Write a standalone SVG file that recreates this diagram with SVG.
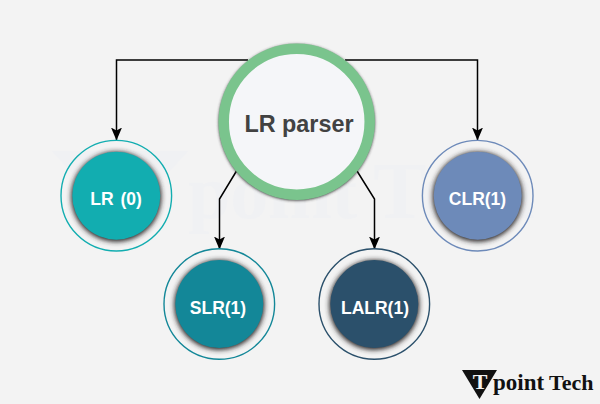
<svg xmlns="http://www.w3.org/2000/svg" width="600" height="404" viewBox="0 0 600 404">
<style>
.lbl{font-family:"Liberation Sans",Arial,sans-serif;font-weight:700;font-size:17.5px;fill:#fff;text-anchor:middle}
.conn{fill:none;stroke:#000;stroke-width:1.5}
.halo{fill:#2a2628;filter:url(#blur)}
.ring{fill:none;stroke-width:1.4}
.wm{font-family:"Liberation Serif",serif;font-weight:700;fill:#f0f1f3}
.logo{font-family:"Liberation Serif",serif;font-weight:700;fill:#111}
</style>
<defs>
<filter id="blur" x="-30%" y="-30%" width="160%" height="160%"><feGaussianBlur stdDeviation="2.600"/></filter>
<filter id="blur2" x="-30%" y="-30%" width="160%" height="160%"><feGaussianBlur stdDeviation="1.800"/></filter>
<marker id="arrow" markerUnits="userSpaceOnUse" markerWidth="14" markerHeight="12" refX="12.500" refY="5.500" orient="auto"><path d="M0 0L13 5.500L0 11L3 5.500Z" fill="#000"/></marker>
</defs>
<rect width="600" height="404" fill="#f3f3f3"/>
<g id="watermark">
<polygon points="52,151 188,151 120,226" fill="#f0f1f3"/>
<text x="119" y="212" text-anchor="middle" font-size="76" class="wm" style="fill:#f3f3f3">T</text>
<text class="wm" x="188" y="218" font-size="76">point</text>
<text class="wm" x="373" y="218" font-size="80">Tech</text>
</g>
<g id="connectors">
<path class="conn" d="M248 60H116.500V140" marker-end="url(#arrow)"/>
<path class="conn" d="M345 60H477.500V140" marker-end="url(#arrow)"/>
<path class="conn" d="M236.500 171L219.500 199V249" marker-end="url(#arrow)"/>
<path class="conn" d="M357 171L374.500 199V249" marker-end="url(#arrow)"/>
</g>
<g id="lr-parser">
<circle cx="296.700" cy="122.500" r="78" fill="#333" filter="url(#blur2)"/>
<circle cx="296.700" cy="121.700" r="73" fill="#f5f6f9" stroke="#7ac48d" stroke-width="10.500"/>
<text x="299" y="131.500" text-anchor="middle" font-family="Liberation Sans,Arial,sans-serif" font-weight="700" font-size="23.400" fill="#424242">LR parser</text>
</g>
<g id="lr0">
<circle class="ring" cx="116.300" cy="195.700" r="55.300" stroke="#12adb0"/>
<circle class="halo" cx="116.300" cy="196.700" r="45"/>
<circle cx="116.300" cy="195.700" r="44" fill="#12adb0"/>
<text class="lbl" x="116" y="205" word-spacing="2">LR (0)</text>
</g>
<g id="slr1">
<circle class="ring" cx="219.300" cy="304" r="55.300" stroke="#138798"/>
<circle class="halo" cx="219.300" cy="305" r="45"/>
<circle cx="219.300" cy="304" r="44" fill="#138798"/>
<text class="lbl" x="218" y="313.500">SLR(1)</text>
</g>
<g id="lalr1">
<circle class="ring" cx="374.300" cy="304" r="55.300" stroke="#2b506b"/>
<circle class="halo" cx="374.300" cy="305" r="45"/>
<circle cx="374.300" cy="304" r="44" fill="#2b506b"/>
<text class="lbl" x="375" y="313.500">LALR(1)</text>
</g>
<g id="clr1">
<circle class="ring" cx="477.700" cy="195.700" r="55.300" stroke="#6d8ab9"/>
<circle class="halo" cx="477.700" cy="196.700" r="45"/>
<circle cx="477.700" cy="195.700" r="44" fill="#6d8ab9"/>
<text class="lbl" x="477.500" y="205">CLR(1)</text>
</g>
<g id="logo">
<polygon points="462,370 497,370 479.500,399" fill="#111"/>
<text x="480" y="389" text-anchor="middle" font-family="Liberation Serif,serif" font-weight="700" font-size="22" fill="#f3f3f3">T</text>
<text class="logo" x="493" y="389.500" font-size="23">point</text>
<text class="logo" x="549" y="389.500" font-size="22">Tech</text>
</g>
</svg>
